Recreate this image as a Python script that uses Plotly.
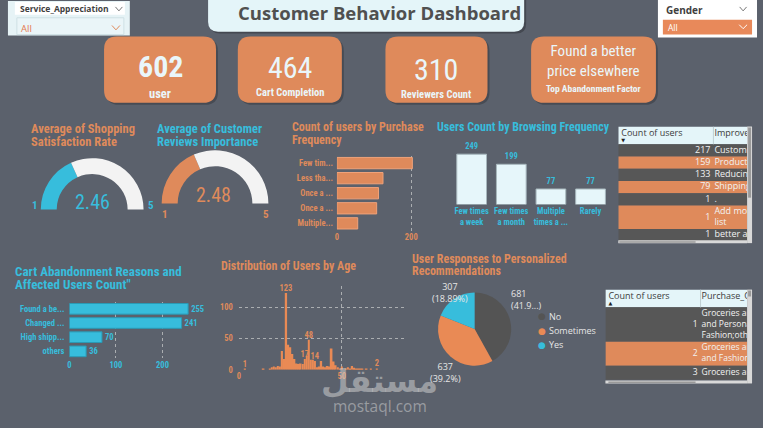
import plotly.graph_objects as go

W, H = 763, 428
BG = "#5B616C"
ORANGE = "#DF8A5B"
CYAN = "#37BDDC"
LIGHT = "#E4F5F9"
ROWDARK = "#575757"
GRID = "rgba(215,215,215,0.65)"
NARROW = "Liberation Sans Narrow, Arial Narrow, Roboto Condensed, Roboto, sans-serif"
UI = "Open Sans, Noto Sans, sans-serif"

# ---------------- data ----------------
kpi_values = [602, 464, 310]
kpi_labels = ["user", "Cart Completion", "Reviewers Count"]
top_factor = "Found a better price elsewhere"
top_factor_label = "Top Abandonment Factor"

gauge_titles = [["Average of Shopping", "Satisfaction Rate"], ["Average of Customer", "Reviews Importance"]]
gauge_values = [2.46, 2.48]
gauge_min, gauge_max = 1, 5

purchase_freq = ["Few times a month", "Less than once a month", "Once a week", "Once a month", "Multiple times a week"]
purchase_ticks = ["Few tim...", "Less tha...", "Once a ...", "Once a ...", "Multiple..."]
purchase_counts = [203, 124, 112, 107, 56]

browse_freq = ["Few times a week", "Few times a month", "Multiple times a day", "Rarely"]
browse_ticks = ["Few times<br>a week", "Few times<br>a month", "Multiple<br>times a ...", "Rarely"]
browse_counts = [249, 199, 77, 77]

cart_reasons = ["Found a better price elsewhere", "Changed my mind or no longer need the item",
                "High shipping costs", "others"]
cart_ticks = ["Found a be...", "Changed ...", "High shipp...", "others"]
cart_counts = [255, 241, 70, 36]

ages = [3, 12, 15, 16, 17, 18, 19, 20, 21, 22, 23, 24, 25, 26, 27, 28, 29, 30, 31, 32, 33, 34, 35,
        36, 37, 38, 39, 40, 41, 42, 43, 44, 45, 46, 47, 48, 49, 50, 52, 53, 54, 55, 56, 57, 58, 59,
        60, 62, 64, 67]
age_counts = [1, 1, 1, 4, 5, 4, 6, 5, 30, 17, 123, 40, 36, 25, 17, 10, 9, 10, 9, 17, 22, 48, 16,
              16, 14, 4, 5, 14, 5, 4, 6, 5, 34, 13, 7, 4, 2, 5, 2, 4, 2, 6, 3, 2, 1, 2,
              1, 1, 1, 2]
age_labelled = [3, 23, 32, 34, 37, 67]

rec_labels = ["No", "Sometimes", "Yes"]
rec_counts = [681, 637, 307]
rec_pct_text = ["41.9...", "39.2%", "18.89%"]

improve_header = ["Count of users", "Improvement_Areas"]
improve_counts = [217, 159, 133, 79, 1, 1, 1]
improve_areas = ["Customer service", "Product quality and accuracy", "Reducing packaging waste",
                 "Shipping speed and reliability", ".", "Add more products to wish<br>list",
                 "better app interface"]

cat_header = ["Count of users", "Purchase_Categories"]
cat_counts = [1, 2, 3]
cat_names = ["Groceries and Gourmet Food;Beauty<br>and Personal Care;Clothing and<br>Fashion;others",
             "Groceries and Gourmet Food;Clothing<br>and Fashion;others",
             "Groceries and Gourmet Food"]


def px(x):
    return x / W


def py(y):
    return 1 - y / H


shapes = []
annotations = []


def rrect(x0, y0, x1, y1, r, fill, line=None, layer="below"):
    X0, X1, T_, B = px(x0), px(x1), py(y0), py(y1)
    rx, ry = r / W, r / H
    path = (f"M {X0+rx},{T_} L {X1-rx},{T_} Q {X1},{T_} {X1},{T_-ry} L {X1},{B+ry} "
            f"Q {X1},{B} {X1-rx},{B} L {X0+rx},{B} Q {X0},{B} {X0},{B+ry} "
            f"L {X0},{T_-ry} Q {X0},{T_} {X0+rx},{T_} Z")
    shapes.append(dict(type="path", path=path, xref="paper", yref="paper", fillcolor=fill,
                       line=dict(width=0 if line is None else 1, color=line or fill), layer=layer))


def rect(x0, y0, x1, y1, fill, line=None, layer="below"):
    shapes.append(dict(type="rect", xref="paper", yref="paper", x0=px(x0), x1=px(x1), y0=py(y1), y1=py(y0),
                       fillcolor=fill, line=dict(width=0 if line is None else 1, color=line or fill), layer=layer))


def chevron(x, y, color, w=4, h=2.2):
    shapes.append(dict(type="path", xref="paper", yref="paper",
                       path=f"M {px(x-w)},{py(y-h)} L {px(x)},{py(y+h)} L {px(x+w)},{py(y-h)}",
                       line=dict(color=color, width=1), layer="above"))


def T(x, y, text, size, color, bold=True, xanchor="left", family=NARROW, align="left"):
    annotations.append(dict(x=px(x), y=py(y), xref="paper", yref="paper", text=text, showarrow=False,
                            xanchor=xanchor, yanchor="middle", align=align,
                            font=dict(size=size, color=color, family=family,
                                      weight="bold" if bold else "normal")))


def title2(x, y, lines, size, color, gap):
    for k, ln in enumerate(lines):
        T(x, y + k * gap, ln, size, color)


fig = go.Figure()

# ---------------- slicers & title ----------------
rect(6, 1, 129, 36, "#E6F3F6")
rect(13, 2, 124, 15, "#FFFFFF")
rect(15, 18, 123, 35, "#EAF5F8", line="#CFE0E4")
T(16, 9, "Service_Appreciation", 8.5, "#3F3F3F", bold=True, family=UI)
chevron(118, 9, "#777777", 3.5, 2)
T(17, 29, "All", 9.5, "#E47A50", bold=False, family=UI)
chevron(115, 28, ORANGE, 4, 2.2)

rect(662, 0, 762, 38, "#FFFFFF")
T(668, 10, "Gender", 10, "#3F3F3F", bold=True, family=UI)
chevron(748, 9, "#777777", 3.5, 2)
rect(667, 20, 757, 35, "#E8895A")
T(670, 28, "All", 8.5, "#FFFFFF", bold=False, family=UI)
chevron(748, 27, "#FFFFFF", 4, 2)

rrect(210, -12, 529, 34, 10, "rgba(0,0,0,0.25)")
rrect(208, -12, 527, 32, 10, LIGHT)
T(381, 13, "Customer Behavior Dashboard", 18.5, "#505050", bold=True, xanchor="center", family=UI)

# ---------------- KPI cards ----------------
cards = [(103, 216), (238, 343), (387, 490), (534, 660)]
for (a, b) in cards:
    rrect(a + 2, 39, b + 2, 106, 13, "rgba(0,0,0,0.22)")
    rrect(a, 37, b, 104, 13, ORANGE)
KTXT = "#EAF6FA"
kpi_num_y = [67, 68, 70]
kpi_lab_y = [95, 94, 96]
kpi_lab_size = [12.5, 10.5, 10.5]
kpi_bold = [True, False, False]
for i, (a, b) in enumerate(cards[:3]):
    cx = (a + b) / 2
    T(cx, kpi_num_y[i], f"{kpi_values[i]}", 30, KTXT, bold=kpi_bold[i], xanchor="center")
    T(cx, kpi_lab_y[i], kpi_labels[i], kpi_lab_size[i], KTXT, bold=True, xanchor="center")
a, b = cards[3]
T((a + b) / 2, 62, top_factor.replace("better ", "better<br>"), 15, KTXT, bold=False, xanchor="center",
  align="center")
T((a + b) / 2, 90, top_factor_label, 9.5, KTXT, bold=True, xanchor="center")

# ---------------- gauges ----------------
gauge_geo = [(91, 212, 52, 0.69, CYAN), (215, 206, 54, 0.70, ORANGE)]
for val, (cx, cy, R, hole, col) in zip(gauge_values, gauge_geo):
    fig.add_trace(go.Pie(values=[val - gauge_min, gauge_max - val, gauge_max - gauge_min],
                         marker=dict(colors=[col, "#F3F3F3", "rgba(0,0,0,0)"], line=dict(width=0)),
                         hole=hole, rotation=-90, direction="clockwise", sort=False,
                         textinfo="none", hoverinfo="skip", showlegend=False,
                         domain=dict(x=[px(cx - R), px(cx + R)], y=[py(cy + R), py(cy - R)])))
title2(27, 130, gauge_titles[0], 12.5, ORANGE, 13.5)
title2(154, 130, gauge_titles[1], 12.5, CYAN, 13.5)
T(91, 204, f"{gauge_values[0]:.2f}", 20, CYAN, bold=False, xanchor="center")
T(33, 208, str(gauge_min), 11, CYAN, xanchor="center")
T(150, 208, str(gauge_max), 11, CYAN, xanchor="center")
T(213, 197, f"{gauge_values[1]:.2f}", 20, ORANGE, bold=False, xanchor="center")
T(165, 217, str(gauge_min), 11, ORANGE, xanchor="center")
T(266, 217, str(gauge_max), 11, ORANGE, xanchor="center")

# ---------------- purchase frequency ----------------
fig.add_trace(go.Bar(x=purchase_counts, y=purchase_freq, orientation="h",
                     marker=dict(color=ORANGE, line=dict(color="#EFA27A", width=1)),
                     xaxis="x", yaxis="y", hoverinfo="skip", showlegend=False))
title2(291, 129, ["Count of users by Purchase", "Frequency"], 12, ORANGE, 12.5)

# ---------------- browsing frequency ----------------
fig.add_trace(go.Bar(x=browse_freq, y=browse_counts, text=browse_counts, textposition="outside",
                     constraintext="none",
                     textfont=dict(color=CYAN, size=8.5, family=NARROW, weight="bold"), cliponaxis=False,
                     marker=dict(color="#E6F6FA", line=dict(color="#A7B7BD", width=1)),
                     xaxis="x2", yaxis="y2", hoverinfo="skip", showlegend=False))
T(437, 129, "Users Count by Browsing Frequency", 12, CYAN)

# ---------------- cart abandonment ----------------
fig.add_trace(go.Bar(x=cart_counts, y=cart_reasons, orientation="h", text=cart_counts,
                     textposition="outside", cliponaxis=False, constraintext="none",
                     textfont=dict(color=CYAN, size=8.5, family=NARROW, weight="bold"),
                     marker=dict(color=CYAN, line=dict(color="#2A9AB5", width=1)),
                     xaxis="x3", yaxis="y3", hoverinfo="skip", showlegend=False))
title2(11, 275, ["Cart Abandonment Reasons and", "Affected Users Count\""], 13, CYAN, 13)

# ---------------- age distribution ----------------
age_text = [str(c) if a in age_labelled else "" for a, c in zip(ages, age_counts)]
fig.add_trace(go.Bar(x=ages, y=age_counts, width=0.85, text=age_text, textposition="outside",
                     cliponaxis=False, constraintext="none",
                     textfont=dict(color=ORANGE, size=8.5, family=NARROW, weight="bold"),
                     marker=dict(color="#E98A55", line=dict(width=0)),
                     xaxis="x4", yaxis="y4", hoverinfo="skip", showlegend=False))
T(219, 269, "Distribution of Users by Age", 12, ORANGE)

# ---------------- pie ----------------
rec_colors = ["#545454", "#E98A55", CYAN]
fig.add_trace(go.Pie(labels=rec_labels, values=rec_counts, sort=False, direction="clockwise", rotation=0,
                     marker=dict(colors=rec_colors, line=dict(width=0)), textinfo="none",
                     hoverinfo="skip", showlegend=False,
                     domain=dict(x=[px(440), px(514)], y=[py(370), py(296)])))
title2(412, 262, ["User Responses to Personalized", "Recommendations"], 12, ORANGE, 12.5)
pie_lab_pos = [(512, 303, "left"), (448, 377, "center"), (452, 296, "center")]
for (x, y, anc), v, p in zip(pie_lab_pos, rec_counts, rec_pct_text):
    T(x, y, f"{v}<br>({p})", 9, "#E6E6E6", bold=False, xanchor=anc, family=UI, align=anc)
for i, (lab, col) in enumerate(zip(rec_labels, rec_colors)):
    yy = 320 + i * 14.5
    T(545, yy, "●", 9, col, bold=False, xanchor="center", family="DejaVu Sans")
    T(550, yy, lab, 9, "#E6E6E6", bold=False, family=UI)


# ---------------- tables (row bands as bars, texts as text marks on hidden axes) ----------------
def add_table(xa, ya, header, counts, texts, width, height, col_split, head_h, line_h, pad, arrow,
              font_size):
    n_lines = [str(t).count("<br>") + 1 for t in texts]
    heights = [k * line_h + pad for k in n_lines]
    centers, top = [], head_h
    for h_ in heights:
        centers.append(top + h_ / 2)
        top += h_
    fills = [ROWDARK if i % 2 == 0 else ORANGE for i in range(len(texts))]
    fig.add_trace(go.Bar(x=[width] * (len(texts) + 1), y=[head_h / 2] + centers, base=0,
                         width=[head_h] + heights, orientation="h",
                         marker=dict(color=[LIGHT] + fills, line=dict(width=0)),
                         xaxis=xa, yaxis=ya, hoverinfo="skip", showlegend=False))
    fig.add_trace(go.Scatter(x=[col_split - 3] * len(counts), y=centers, mode="text",
                             text=[str(c) for c in counts], textposition="middle left",
                             textfont=dict(color="#F2F2F2", size=font_size, family=UI),
                             xaxis=xa, yaxis=ya, hoverinfo="skip", showlegend=False))
    fig.add_trace(go.Scatter(x=[col_split + 1] * len(texts), y=centers, mode="text",
                             text=texts, textposition="middle right",
                             textfont=dict(color="#F2F2F2", size=font_size, family=UI),
                             xaxis=xa, yaxis=ya, hoverinfo="skip", showlegend=False))
    fig.add_trace(go.Scatter(x=[3, col_split + 1], y=[head_h * 0.42] * 2, mode="text",
                             text=header, textposition="middle right",
                             textfont=dict(color="#3C3C3C", size=9, family=UI),
                             xaxis=xa, yaxis=ya, hoverinfo="skip", showlegend=False))
    fig.add_trace(go.Scatter(x=[5], y=[head_h * 0.8], mode="text", text=[arrow],
                             textposition="middle center",
                             textfont=dict(color="#222222", size=5, family="DejaVu Sans"),
                             xaxis=xa, yaxis=ya, hoverinfo="skip", showlegend=False))
    shapes.append(dict(type="line", xref=xa, yref=ya, x0=col_split, x1=col_split, y0=0, y1=head_h,
                       line=dict(color="#BFD0D4", width=1), layer="above"))
    return dict(range=[0, width], visible=False, fixedrange=True), \
        dict(range=[height, 0], visible=False, fixedrange=True)


ax5, ay5 = add_table("x5", "y5", improve_header, improve_counts, improve_areas, 130, 118, 96, 18, 11.4, 1.0,
                     "▼", 9)
ax6, ay6 = add_table("x6", "y6", cat_header, cat_counts, cat_names, 143, 93, 96, 18, 10.3, 3.8,
                     "▲", 8.5)
ax5.update(domain=[px(622), px(752)], anchor="y5")
ay5.update(domain=[py(246), py(128)], anchor="x5")
ax6.update(domain=[px(609), px(752)], anchor="y6")
ay6.update(domain=[py(386), py(293)], anchor="x6")

# scrollbars
rect(752, 128, 757, 246, "#D9D9D9", layer="above")
rect(753, 129, 756, 200, "#9A9A9A", layer="above")
rect(622, 243, 752, 246, "#D9D9D9", layer="above")
rect(623, 244, 700, 245.5, "#9A9A9A", layer="above")
rect(752, 293, 757, 388, "#D9D9D9", layer="above")
rect(753, 294, 756, 300, "#9A9A9A", layer="above")
rect(609, 385, 752, 388, "#D9D9D9", layer="above")
rect(612, 386, 700, 387.5, "#9A9A9A", layer="above")

# watermark
T(381, 385, "مستقل", 32, "rgba(215,215,215,0.5)", bold=True, xanchor="center", family="DejaVu Sans")
T(381, 411, "mostaql.com", 15.5, "rgba(215,215,215,0.5)", bold=False, xanchor="center", family=UI)

tick_o = dict(color=ORANGE, size=8.5, family=NARROW, weight="bold")
tick_c = dict(color=CYAN, size=8.5, family=NARROW, weight="bold")
fig.update_layout(
    width=W, height=428, margin=dict(l=0, r=0, t=0, b=0),
    paper_bgcolor=BG, plot_bgcolor="rgba(0,0,0,0)", bargap=0.25,
    font=dict(family=NARROW),
    shapes=shapes, annotations=annotations,
    xaxis=dict(domain=[px(338), px(414.9)], range=[0, 205], tickvals=[0, 200], showgrid=True,
               gridcolor=GRID, griddash="dot", zeroline=False, tickfont=tick_o, anchor="y", fixedrange=True),
    yaxis=dict(domain=[py(233.6), py(157.4)], categoryorder="array", categoryarray=purchase_freq,
               autorange="reversed", tickvals=purchase_freq, ticktext=purchase_ticks, tickfont=tick_o,
               showgrid=False, anchor="x", ticklabelstandoff=3),
    xaxis2=dict(domain=[px(454), px(614)], categoryorder="array", categoryarray=browse_freq,
                tickvals=browse_freq, ticktext=browse_ticks, tickfont=tick_c, showgrid=False, anchor="y2"),
    yaxis2=dict(domain=[py(207), py(147.6)], range=[0, 290], visible=False, anchor="x2"),
    xaxis3=dict(domain=[px(68), px(204.3)], range=[0, 290], tickvals=[0, 100, 200], showgrid=True,
                gridcolor=GRID, griddash="dot", zeroline=False, tickfont=tick_c, anchor="y3"),
    yaxis3=dict(domain=[py(362.7), py(305.3)], categoryorder="array", categoryarray=cart_reasons,
                autorange="reversed", tickvals=cart_reasons, ticktext=cart_ticks, tickfont=tick_c,
                showgrid=False, anchor="x3", ticklabelstandoff=4),
    xaxis4=dict(domain=[px(239), px(405.4)], range=[0, 80], tickvals=[0, 50], showgrid=True,
                gridcolor=GRID, griddash="dot", zeroline=False, tickfont=tick_o, anchor="y4"),
    yaxis4=dict(domain=[py(374), py(289)], range=[0, 135], tickvals=[0, 50, 100], showgrid=True,
                gridcolor=GRID, griddash="dot", zeroline=False, tickfont=tick_o, anchor="x4",
                ticklabelstandoff=5),
    xaxis5=ax5, yaxis5=ay5, xaxis6=ax6, yaxis6=ay6,
)

fig.write_html("out.html")
